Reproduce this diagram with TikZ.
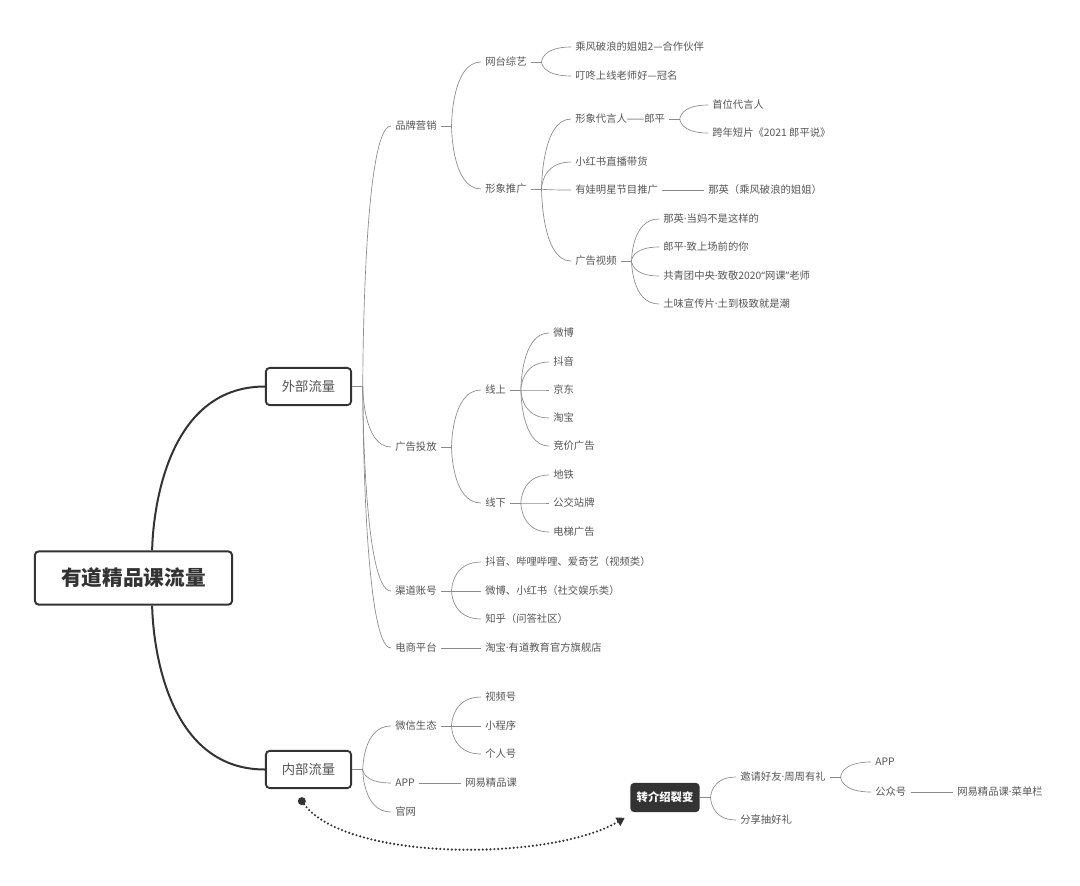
\documentclass[tikz,border=0pt]{standalone}
\usepackage{fontspec}
\setmainfont{Noto Sans CJK SC}
\newfontfamily\latinfont{Noto Sans}
\newcommand\middot{{\latinfont ·}}
\usetikzlibrary{arrows.meta}
\definecolor{inkgray}{HTML}{555555}
\definecolor{linegray}{HTML}{8A8A8A}
\definecolor{boxline}{HTML}{333333}
\tikzset{
  rootbox/.style={draw=boxline, line width=1.5pt, rounded corners=3pt, fill=white, minimum width=148pt, minimum height=40pt, text=boxline, font=\fontsize{15.5}{18}\selectfont\bfseries},
  topicbox/.style={draw=boxline, line width=1.4pt, rounded corners=3pt, fill=white, minimum width=64pt, minimum height=28pt, text=inkgray, font=\fontsize{10}{12}\selectfont},
  darkbox/.style={fill=boxline, rounded corners=3pt, text=white, minimum width=52pt, minimum height=22pt, font=\fontsize{8.5}{10}\selectfont\bfseries},
  leaf/.style={anchor=west, inner xsep=3pt, inner ysep=1pt, text=inkgray, font=\fontsize{7.75}{10}\selectfont},
  branch/.style={draw=linegray, line width=0.5pt},
  mainline/.style={draw=boxline, line width=1.5pt},
  dotlink/.style={draw=boxline, line width=1.8pt, line cap=round, dash pattern=on 0pt off 2.9pt, -{Triangle[length=6pt,width=7pt]}}
}
\begin{document}
\begin{tikzpicture}[x=0.75pt, y=-0.75pt]
  \useasboundingbox (0,0) rectangle (1080,885);
  % main topics
  \node[rootbox] (root) at (133.5,578) {有道精品课流量};
  \node[topicbox] (ext) at (308.5,386.5) {外部流量};
  \node[topicbox] (int) at (308.5,769.5) {内部流量};
  \node[darkbox] (refer) at (665,797.5) {转介绍裂变};

  % external traffic
  \node[leaf] (brand) at (391,126) {品牌营销};
  \node[leaf] (ads) at (391,447) {广告投放};
  \node[leaf] (chan) at (391,591) {渠道账号};
  \node[leaf] (shop) at (391,648) {电商平台};
  \node[leaf] (show) at (481,62) {网台综艺};
  \node[leaf] (image) at (481,189) {形象推广};
  \node[leaf] (show1) at (571,47) {乘风破浪的姐姐2—合作伙伴};
  \node[leaf] (show2) at (571,76) {叮咚上线老师好—冠名};
  \node[leaf] (spokes) at (571,119) {形象代言人——郎平};
  \node[leaf] (xhs) at (571,162) {小红书直播带货};
  \node[leaf] (star) at (571,190) {有娃明星节目推广};
  \node[leaf] (video) at (571,261) {广告视频};
  \node[leaf] (sp1) at (708,105) {首位代言人};
  \node[leaf] (sp2) at (708,133) {跨年短片《2021 郎平说》};
  \node[leaf] (star1) at (704,190) {那英（乘风破浪的姐姐）};
  \node[leaf] (v1) at (659,219) {那英\middot 当妈不是这样的};
  \node[leaf] (v2) at (659,247) {郎平\middot 致上场前的你};
  \node[leaf] (v3) at (659,276) {共青团中央\middot 致敬2020{\latinfont “}网课{\latinfont ”}老师};
  \node[leaf] (v4) at (659,304) {土味宣传片\middot 土到极致就是潮};
  \node[leaf] (online) at (481,390) {线上};
  \node[leaf] (offline) at (481,503) {线下};
  \node[leaf] (on1) at (549,333) {微博};
  \node[leaf] (on2) at (549,362) {抖音};
  \node[leaf] (on3) at (549,390) {京东};
  \node[leaf] (on4) at (549,418) {淘宝};
  \node[leaf] (on5) at (549,446) {竞价广告};
  \node[leaf] (off1) at (549,475) {地铁};
  \node[leaf] (off2) at (549,503) {公交站牌};
  \node[leaf] (off3) at (549,532) {电梯广告};
  \node[leaf] (ch1) at (481,562) {抖音、哔哩哔哩、爱奇艺（视频类）};
  \node[leaf] (ch2) at (481,591) {微博、小红书（社交娱乐类）};
  \node[leaf] (ch3) at (481,619) {知乎（问答社区）};
  \node[leaf] (shop1) at (481,648) {淘宝\middot 有道教育官方旗舰店};

  % internal traffic
  \node[leaf] (wx) at (391,726) {微信生态};
  \node[leaf] (app) at (391,783) {APP};
  \node[leaf] (web) at (391,812) {官网};
  \node[leaf] (wx1) at (481,697) {视频号};
  \node[leaf] (wx2) at (481,726) {小程序};
  \node[leaf] (wx3) at (481,754) {个人号};
  \node[leaf] (app1) at (461,783) {网易精品课};

  % referral
  \node[leaf] (invite) at (736,777) {邀请好友\middot 周周有礼};
  \node[leaf] (share) at (736,820) {分享抽好礼};
  \node[leaf] (rapp) at (871,762) {APP};
  \node[leaf] (pub) at (871,792) {公众号};
  \node[leaf] (pub1) at (953,792) {网易精品课\middot 菜单栏};

  % root curves
  \coordinate (rtop) at ([xshift=14pt]root.north);
  \coordinate (rbot) at ([xshift=14pt]root.south);
  \draw[mainline] (rtop) .. controls (rtop) and (rtop |- ext.west) .. (ext.west);
  \draw[mainline] (rbot) .. controls (rbot) and (rbot |- int.west) .. (int.west);

  % branch curves
  \foreach \p in {ext,int,brand,ads,chan,wx,show,image,spokes,video,online,offline,refer,invite}
    \coordinate (\p-f) at ([xshift=8pt]\p.east);
  \foreach \p/\kids in {ext/{brand,ads,chan,shop}, int/{wx,app,web},
      brand/{show,image}, show/{show1,show2}, image/{spokes,xhs,star,video},
      spokes/{sp1,sp2}, video/{v1,v2,v3,v4}, ads/{online,offline},
      online/{on1,on2,on3,on4,on5}, offline/{off1,off2,off3},
      chan/{ch1,ch2,ch3}, wx/{wx1,wx2,wx3}, refer/{invite,share},
      invite/{rapp,pub}} {
    \draw[branch] (\p.east) -- (\p-f);
    \foreach \c in \kids
      \draw[branch] (\p-f) .. controls (\p-f) and (\p-f |- \c.west) .. (\c.west);
  }
  \foreach \a/\b in {star/star1, shop/shop1, app/app1, pub/pub1}
    \draw[branch] (\a.east) -- (\b.west);

  % referral link
  \coordinate (dot) at ([xshift=-5pt,yshift=-9pt]int.south);
  \coordinate (tip) at ([xshift=-4pt,yshift=-4pt]refer.south west);
  \fill[boxline] (dot) circle (3pt);
  \draw[dotlink] (dot) .. controls (340,862) and (550,862) .. (tip);
\end{tikzpicture}
\end{document}
